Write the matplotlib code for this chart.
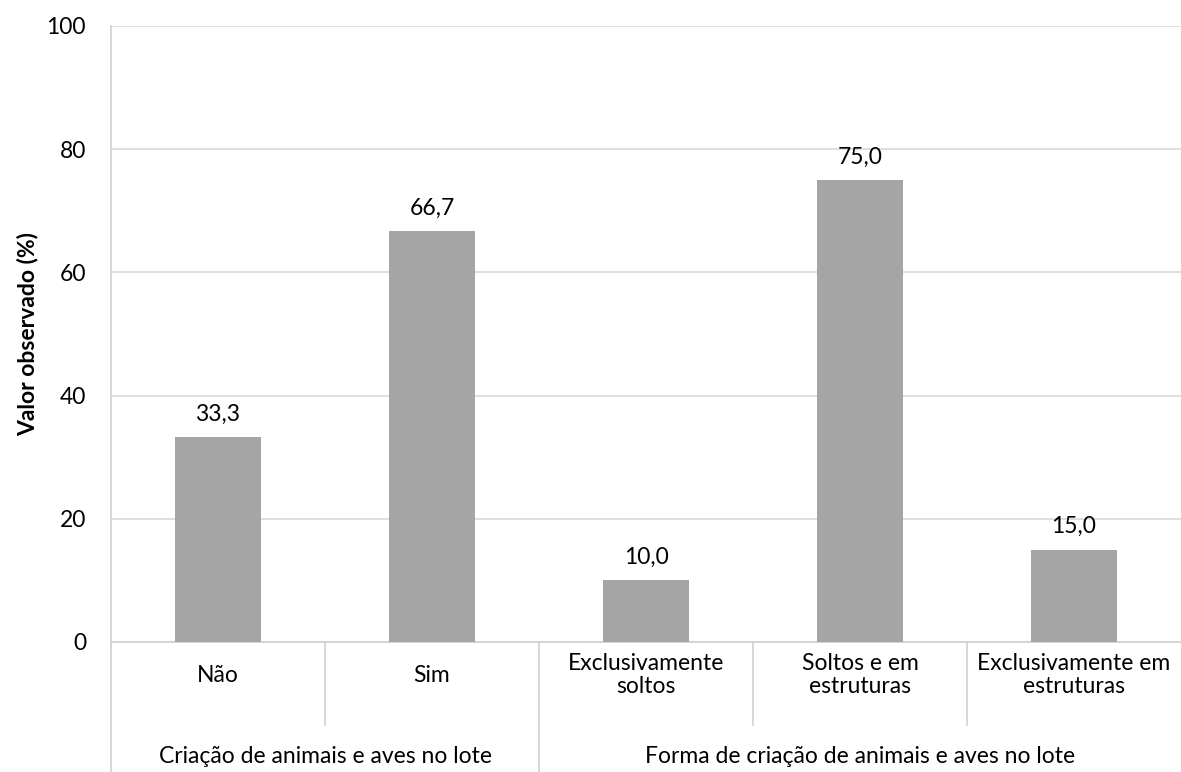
import matplotlib.pyplot as plt
from matplotlib.transforms import blended_transform_factory

categories = ["Não", "Sim", "Exclusivamente\nsoltos", "Soltos e em\nestruturas", "Exclusivamente em\nestruturas"]
values = [33.3, 66.7, 10.0, 75.0, 15.0]
groups = ["Criação de animais e aves no lote", "Forma de criação de animais e aves no lote"]
group_sizes = [2, 3]
yticks = [0, 20, 40, 60, 80, 100]

plt.rcParams['font.family'] = ['Lato', 'DejaVu Sans']
FS = 16.5

fig = plt.figure(figsize=(11.81, 7.72), dpi=100)
ax = fig.add_axes([0.094, 0.1684, 0.906, 0.798])

x = list(range(len(categories)))
ax.bar(x, values, width=0.4, color="#A5A5A5", zorder=3)
for xi, v in zip(x, values):
    ax.text(xi, v + 2.0, f"{v:.1f}".replace(".", ","), ha="center", va="bottom", fontsize=FS)

ax.set_xlim(-0.5, len(categories) - 0.5)
ax.set_ylim(0, 100)
ax.set_yticks(yticks)
ax.set_yticklabels([str(t) for t in yticks], fontsize=FS)
ax.yaxis.grid(True, color="#D9D9D9", linewidth=1.2, zorder=0)
ax.tick_params(axis="y", length=0, pad=18)
ax.set_xticks([])
for s in ["top", "right"]:
    ax.spines[s].set_visible(False)
ax.spines["left"].set_color("#D0D0D0")
ax.spines["bottom"].set_color("#D0D0D0")
ax.spines["left"].set_linewidth(1.2)
ax.spines["bottom"].set_linewidth(1.2)
ax.set_ylabel("Valor observado (%)", fontsize=FS, fontweight="bold", labelpad=6)

trans = blended_transform_factory(ax.transData, ax.transAxes)
# category labels
for xi, lab in zip(x, categories):
    ax.text(xi, -0.054, lab, transform=trans, ha="center", va="center", fontsize=FS,
            linespacing=1.1)

# separators
ax_h_px = 0.798 * 772
short = -(725 - 642) / ax_h_px
long_ = -(772 - 642) / ax_h_px - 0.01
boundaries = []
start = 0
for gs in group_sizes:
    boundaries.append(start - 0.5)
    start += gs
for i in range(1, len(categories)):
    b = i - 0.5
    y_end = long_ if b in boundaries else short
    ax.plot([b, b], [0, y_end], transform=trans, color="#D0D0D0", lw=1.2, clip_on=False)
ax.plot([-0.5, -0.5], [0, long_], transform=trans, color="#D0D0D0", lw=1.2, clip_on=False)

# group labels
start = 0
for g, gs in zip(groups, group_sizes):
    center = start + (gs - 1) / 2
    ax.text(center, -(757 - 642) / ax_h_px, g, transform=trans, ha="center", va="center", fontsize=FS)
    start += gs

fig.savefig("out.png", dpi=100)
